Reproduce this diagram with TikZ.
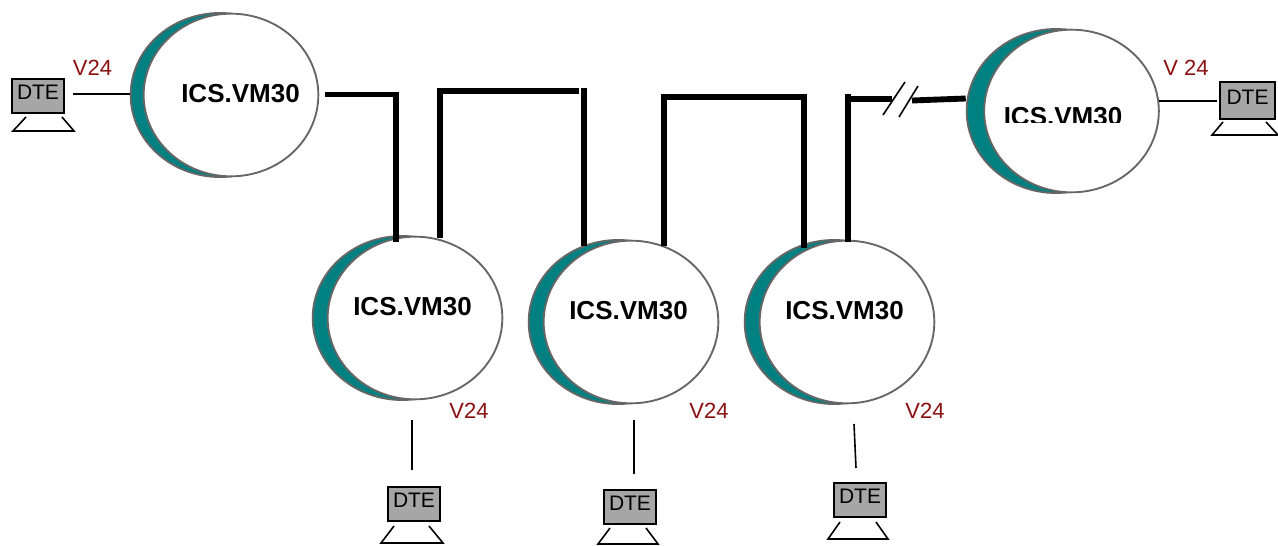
\documentclass[tikz,border=0pt]{standalone}
\usepackage{xcolor}
\usepackage{fontspec}
\setmainfont{Liberation Sans}
\usetikzlibrary{shapes.geometric}
\definecolor{icsteal}{HTML}{008080}
\definecolor{icsgray}{HTML}{666666}
\definecolor{dtegray}{HTML}{A6A6A6}
\definecolor{vred}{HTML}{8B1010}
\tikzset{
  icsback/.style={ellipse, draw=icsgray, line width=1.4pt, fill=icsteal, inner sep=0pt, minimum width=134pt, minimum height=123pt},
  icsfront/.style={ellipse, draw=icsgray, line width=1.4pt, fill=white, inner sep=0pt, minimum width=131pt, minimum height=122pt},
  icstext/.style={font=\bfseries\fontsize{19.5}{22}\selectfont, inner sep=0pt},
  dtebox/.style={rectangle, draw=black, line width=1.5pt, fill=dtegray, inner sep=0pt, minimum width=39pt, minimum height=26pt, text depth=5pt, font=\fontsize{15.75}{18}\selectfont},
  vtext/.style={text=vred, inner sep=0pt, font=\fontsize{16.5}{19}\selectfont},
  bus/.style={line width=4.4pt},
  thinline/.style={line width=1.2pt},
  standline/.style={line width=1.2pt}
}

\begin{document}
\begin{tikzpicture}[x=0.75pt,y=-0.75pt]
  \useasboundingbox (0,0) rectangle (1278,546);
  % stations
  \node[icsback] (back1) at (220,95) {};
  \node[icsfront] (ics1) at (231,95) {};
  \node[icstext] (name1) at (240.5,94) {ICS.VM30};
  \node[icsback] (back2) at (402,318) {};
  \node[icsfront] (ics2) at (415,318) {};
  \node[icstext] (name2) at (412.5,307) {ICS.VM30};
  \node[icsback] (back3) at (618,322) {};
  \node[icsfront] (ics3) at (631,322) {};
  \node[icstext] (name3) at (628.5,311) {ICS.VM30};
  \node[icsback] (back4) at (834,322) {};
  \node[icsfront] (ics4) at (847,322) {};
  \node[icstext] (name4) at (844.5,311) {ICS.VM30};
  \node[icsback] (back5) at (1056,111) {};
  \node[icsfront] (ics5) at (1071.5,111) {};
  % this label is cut off along its lower edge
  \begin{scope}
    \clip (995,100) rectangle (1135,122.5);
    \node[icstext] (name5) at (1063,117) {ICS.VM30};
  \end{scope}
  % terminals
  \node[dtebox] (dte1) at (38,96) {DTE};
  \draw[standline] (26,117) -- (13,131) -- (74,131) -- (62,117);
  \node[dtebox] (dte2) at (414,504) {DTE};
  \draw[standline] (394,526) -- (381,543) -- (443,543) -- (429,526);
  \node[dtebox] (dte3) at (630,507) {DTE};
  \draw[standline] (610,528) -- (598,544) -- (658,544) -- (646,528);
  \node[dtebox] (dte4) at (860,500) {DTE};
  \draw[standline] (840,522) -- (828,539) -- (888,539) -- (876,522);
  \node[dtebox, minimum width=41pt, minimum height=28pt] (dte5) at (1247.5,100.5) {DTE};
  \draw[standline] (1223,122) -- (1212,135) -- (1278,135) -- (1266,122);
  % V24 labels
  \node[vtext] (v1) at (92.5,68) {V24};
  \node[vtext] (v2) at (469,411) {V24};
  \node[vtext] (v3) at (709,411) {V24};
  \node[vtext] (v4) at (925,411) {V24};
  \node[vtext] (v5) at (1186,68) {V 24};
  % terminal links
  \coordinate (t1) at (73,94);
  \draw[thinline] (t1) -- (back1.west |- t1);
  \coordinate (t2a) at (412,420);
  \coordinate (t2b) at (412,470);
  \draw[thinline] (t2a) -- (t2b);
  \coordinate (t3a) at (634,420);
  \coordinate (t3b) at (634,474);
  \draw[thinline] (t3a) -- (t3b);
  \coordinate (t4a) at (854,424);
  \coordinate (t4b) at (856,468);
  \draw[thinline] (t4a) -- (t4b);
  \coordinate (t5a) at (1159,101);
  \coordinate (t5b) at (1217,101);
  \draw[thinline] (t5a) -- (t5b);
  % bus
  \coordinate (a1) at (325,94.5);
  \coordinate (a2) at (396,94.5);
  \coordinate (a3) at (396,242);
  \draw[bus, line cap=butt] (a1) -- (a2) -- (a3);
  \coordinate (b1) at (440,238);
  \coordinate (b2) at (440,91);
  \coordinate (b3) at (579,91);
  \draw[bus] (b1) -- (b2) -- (b3);
  \coordinate (c1) at (584,88);
  \coordinate (c2) at (584,246);
  \draw[bus] (c1) -- (c2);
  \coordinate (d1) at (664,246);
  \coordinate (d2) at (664,97);
  \coordinate (d3) at (804,97);
  \coordinate (d4) at (804,248);
  \draw[bus] (d1) -- (d2) -- (d3) -- (d4);
  \coordinate (e1) at (848,94);
  \coordinate (e2) at (848,242);
  \draw[bus] (e1) -- (e2);
  \coordinate (f1) at (848,99);
  \coordinate (f2) at (892,99);
  \draw[bus] (f1) -- (f2);
  \coordinate (g1) at (912,100.5);
  \draw[bus] (g1) -- (back5.west |- 0,98.5);
  % break in the line
  \draw[thinline] (883,115) -- (905,82);
  \draw[thinline] (899,117) -- (918,86);
\end{tikzpicture}
\end{document}
